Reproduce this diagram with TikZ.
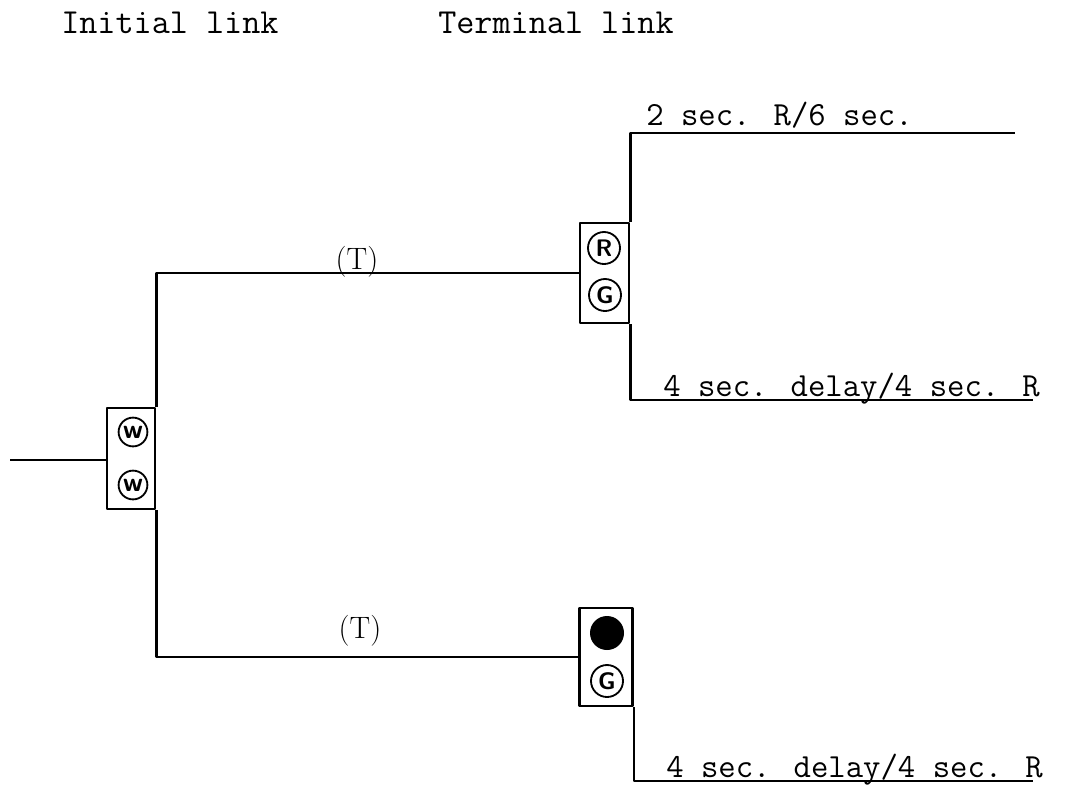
\documentclass[tikz,border=0pt]{standalone}
\usepackage{fontspec}
\begin{document}
\begin{tikzpicture}[x=0.025cm,y=-0.025cm,
  line width=1.8pt, line join=round,
  txt/.style={font=\ttfamily\fontsize{25}{30}\selectfont, anchor=base west, inner sep=0pt},
  stxt/.style={font=\ttfamily\fontsize{24}{30}\selectfont, anchor=base west, inner sep=0pt},
  tlab/.style={font=\rmfamily\fontsize{22}{26}\selectfont, inner sep=0pt},
  keybox/.style={draw, rectangle, inner sep=0pt, line width=1.8pt},
  key/.style={draw, circle, line width=1.3pt, minimum size=0.8cm, inner sep=0pt,
              font=\sffamily\bfseries\fontsize{17}{17}\selectfont},
  wkey/.style={key, minimum size=0.72cm, font=\sffamily\bfseries\fontsize{19}{19}\selectfont},
  blackkey/.style={fill=black, circle, minimum size=0.85cm, inner sep=0pt}]
\useasboundingbox (0,0) rectangle (1073,791);

% headings
\node[txt] (hinit) at (60,33) {Initial link};
\node[txt] (hterm) at (437,33) {Terminal link};

% key boxes
\node[keybox, minimum width=1.2cm, minimum height=2.525cm] (W) at (131,458.5) {};
\node[wkey] (w1) at (133,432) {w};
\node[wkey] (w2) at (133,485) {w};

\node[keybox, minimum width=1.225cm, minimum height=2.5cm] (RG) at (604.5,273) {};
\node[key] (r1) at (604,248) {R};
\node[key] (g1) at (605,295) {G};

\node[keybox, minimum width=1.325cm, minimum height=2.45cm] (BG) at (606,657) {};
\node[blackkey] (b2) at (607,633) {};
\node[key] (g2) at (607,681) {G};

% connectors
\coordinate (start) at (10,460);
\draw (start) -- (W.west |- start);
\draw (RG.west) -| (W.north east);
\draw (BG.west) -| (W.south east);

\coordinate (e1) at (1015,133);
\coordinate (e2) at (1033,400);
\coordinate (e3) at (1033,781);
\draw (RG.north east) |- (e1);
\draw (RG.south east) |- (e2);
\draw (BG.south east) |- (e3);

% labels
\node[tlab] (t1) at (357,262) {(T)};
\node[tlab] (t2) at (360,631) {(T)};
\node[stxt] (l1) at (645,125) {2 sec. R/6 sec.};
\node[stxt] (l2) at (662,396) {4 sec. delay/4 sec. R};
\node[stxt] (l3) at (665,777) {4 sec. delay/4 sec. R};
\end{tikzpicture}
\end{document}
